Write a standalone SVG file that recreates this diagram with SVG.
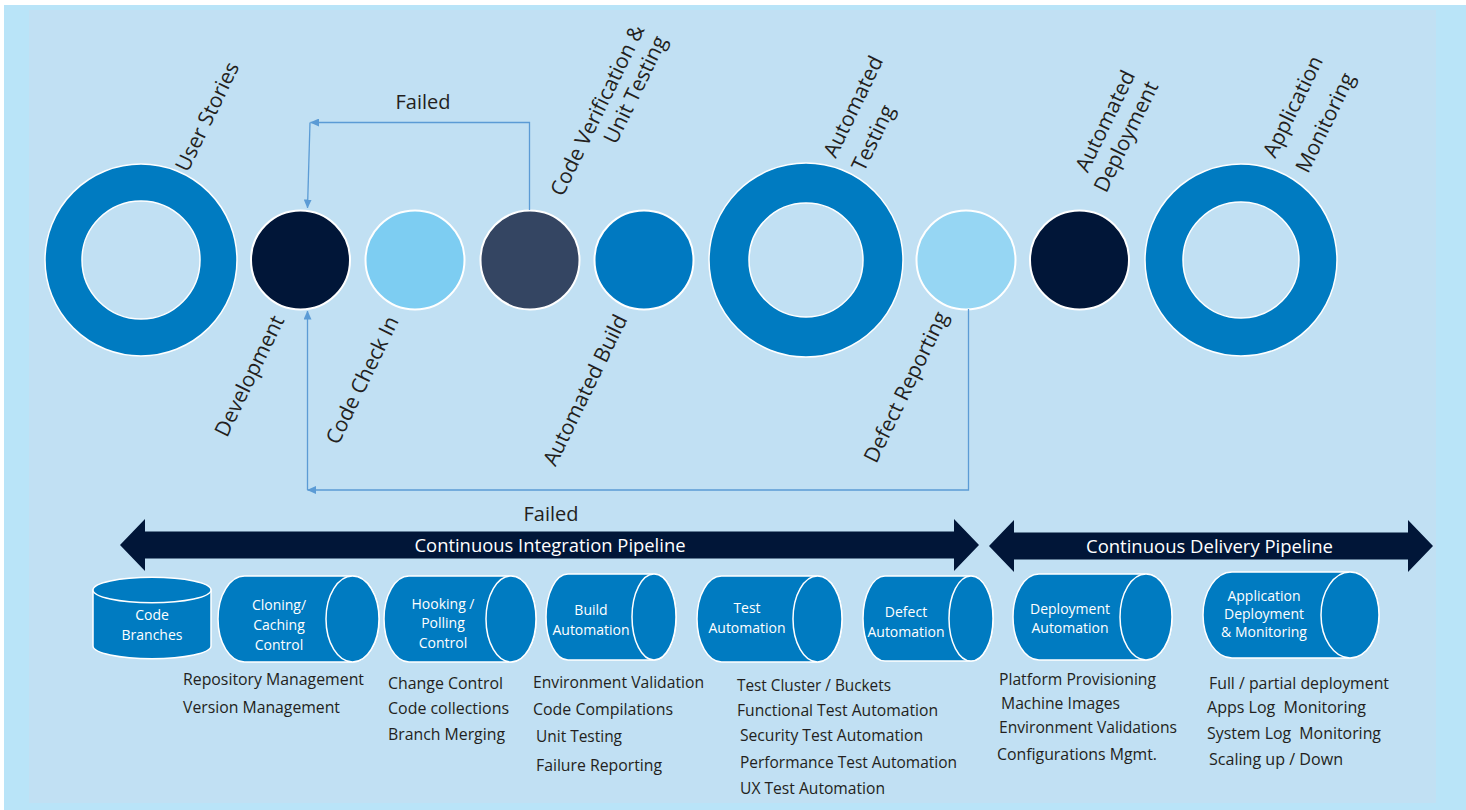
<svg xmlns="http://www.w3.org/2000/svg" width="1466" height="810" viewBox="0 0 1466 810">
<defs>
<style>
.lbl{font-family:"Open Sans","Noto Sans",sans-serif;font-size:21px;fill:#231f20;text-anchor:middle}
.ct{font-family:"Open Sans","Noto Sans",sans-serif;font-size:14px;fill:#ffffff;text-anchor:middle}
.lst{font-family:"Open Sans","Noto Sans",sans-serif;font-size:16px;fill:#231f20}
.cyl{fill:#007bc1;stroke:#ffffff;stroke-width:1.5}
.ring{fill:#007bc1;stroke:#ffffff;stroke-width:1.5;fill-rule:evenodd}
.dot{stroke:#ffffff;stroke-width:2}
.con{fill:none;stroke:#5b9bd5;stroke-width:1.3}
.big{fill:#011638}
.bt{font-family:"Open Sans","Noto Sans",sans-serif;font-size:18px;fill:#ffffff;text-anchor:middle}
.fl{font-family:"Open Sans","Noto Sans",sans-serif;font-size:20px;fill:#231f20;text-anchor:middle}
</style>
<marker id="ah" markerWidth="9" markerHeight="8" refX="8.5" refY="4" orient="auto" markerUnits="userSpaceOnUse"><path d="M0,0 L9,4 L0,8 z" fill="#5b9bd5"/></marker>
</defs>
<rect x="0" y="0" width="1466" height="810" fill="#ffffff"/>
<rect x="4" y="5" width="1462" height="805" fill="#b9e4f8"/>
<rect x="29" y="10" width="1407" height="793" fill="#c1e0f3"/>

<g id="user-stories">
<path class="ring" d="M45,260 a96,96 0 1,0 192,0 a96,96 0 1,0 -192,0 Z M82,260 a59,59 0 1,0 118,0 a59,59 0 1,0 -118,0 Z"/>
<text class="lbl" transform="translate(207,116.5) rotate(-64)" y="7.4">User Stories</text>
</g>
<g id="development">
<circle class="dot" cx="300.5" cy="260" r="49.5" fill="#011638"/>
<text class="lbl" transform="translate(250.5,376.5) rotate(-64)" y="6">Development</text>
</g>
<g id="code-check-in">
<circle class="dot" cx="415" cy="260" r="49.5" fill="#7dcdf2"/>
<text class="lbl" transform="translate(362,380) rotate(-64)" y="7.4">Code Check In</text>
</g>
<g id="code-verification">
<circle class="dot" cx="530" cy="260" r="49.5" fill="#344562"/>
<text class="lbl" transform="translate(598,110.5) rotate(-64)"><tspan x="0" y="6.5">Code Verification &amp;</tspan><tspan x="35" y="31.5">Unit Testing</tspan></text>
</g>
<g id="automated-build">
<circle class="dot" cx="644" cy="260" r="49.5" fill="#0079c1"/>
<text class="lbl" transform="translate(585,390) rotate(-64)" y="7.4">Automated Build</text>
</g>
<g id="automated-testing">
<path class="ring" d="M709,260 a97,97 0 1,0 194,0 a97,97 0 1,0 -194,0 Z M749,260 a57,57 0 1,0 114,0 a57,57 0 1,0 -114,0 Z"/>
<text class="lbl" transform="translate(853,106.5) rotate(-64)"><tspan x="0" y="7.4">Automated</tspan><tspan x="-19.4" y="39">Testing</tspan></text>
</g>
<g id="defect-reporting">
<circle class="dot" cx="966" cy="260" r="49.5" fill="#96d6f3"/>
<text class="lbl" transform="translate(907,387.5) rotate(-64)" y="6">Defect Reporting</text>
</g>
<g id="automated-deployment">
<circle class="dot" cx="1079.5" cy="260" r="49.5" fill="#011638"/>
<text class="lbl" transform="translate(1105,121) rotate(-64)"><tspan x="0" y="7.4">Automated</tspan><tspan x="-4.8" y="33">Deployment</tspan></text>
</g>
<g id="application-monitoring">
<path class="ring" d="M1145,260 a96,96 0 1,0 192,0 a96,96 0 1,0 -192,0 Z M1183,260 a58,58 0 1,0 116,0 a58,58 0 1,0 -116,0 Z"/>
<text class="lbl" transform="translate(1294,107) rotate(-64)"><tspan x="0" y="6">Application</tspan><tspan x="-0.4" y="42">Monitoring</tspan></text>
</g>

<g id="connectors">
<path class="con" d="M529.5,210 V122.5 H310.5" marker-end="url(#ah)"/>
<path class="con" d="M310,122.5 L307.5,208" marker-end="url(#ah)"/>
<text class="fl" x="423" y="109">Failed</text>
<path class="con" d="M968.5,309 V490 H307.5" marker-end="url(#ah)"/>
<path class="con" d="M307.5,490 V311" marker-end="url(#ah)"/>
<text class="fl" x="551" y="521">Failed</text>
</g>

<g id="ci-pipeline">
<polygon class="big" points="120,545 145,519 145,531.5 954,531.5 954,519 979,545 954,571 954,558.5 145,558.5 145,571"/>
<text class="bt" x="550" y="551.5" textLength="271" lengthAdjust="spacingAndGlyphs">Continuous Integration Pipeline</text>
</g>
<g id="cd-pipeline">
<polygon class="big" points="989,546 1014,520 1014,532.5 1408,532.5 1408,520 1433,546 1408,572 1408,559.5 1014,559.5 1014,572"/>
<text class="bt" x="1209.5" y="552.5" textLength="247" lengthAdjust="spacingAndGlyphs">Continuous Delivery Pipeline</text>
</g>

<g id="code-branches">
<path class="cyl" d="M93,590 V646 A59,12.7 0 0,0 211,646 V590 Z"/>
<ellipse class="cyl" cx="152" cy="590" rx="59" ry="12.7"/>
<text class="ct" x="152" y="620">Code</text>
<text class="ct" x="152" y="640">Branches</text>
</g>
<g id="cloning-caching">
<path class="cyl" d="M244.5,576 H352.5 A26.5,43 0 0,1 352.5,662 H244.5 A26.5,43 0 0,1 244.5,576 Z"/>
<ellipse class="cyl" cx="352.5" cy="619" rx="26.5" ry="43"/>
<text class="ct" x="279" y="610">Cloning/</text>
<text class="ct" x="279" y="630">Caching</text>
<text class="ct" x="279" y="650">Control</text>
</g>
<g id="hooking-polling">
<path class="cyl" d="M409,576 H511 A25,43 0 0,1 511,662 H409 A25,43 0 0,1 409,576 Z"/>
<ellipse class="cyl" cx="511" cy="619" rx="25" ry="43"/>
<text class="ct" x="443" y="609">Hooking /</text>
<text class="ct" x="443" y="628">Polling</text>
<text class="ct" x="443" y="648">Control</text>
</g>
<g id="build-automation">
<path class="cyl" d="M568,574 H654 A22,43 0 0,1 654,660 H568 A22,43 0 0,1 568,574 Z"/>
<ellipse class="cyl" cx="654" cy="617" rx="22" ry="43"/>
<text class="ct" x="591" y="615">Build</text>
<text class="ct" x="591" y="635">Automation</text>
</g>
<g id="test-automation">
<path class="cyl" d="M721.5,576 H817.5 A24.5,43 0 0,1 817.5,662 H721.5 A24.5,43 0 0,1 721.5,576 Z"/>
<ellipse class="cyl" cx="817.5" cy="619" rx="24.5" ry="43"/>
<text class="ct" x="747" y="613">Test</text>
<text class="ct" x="747" y="633">Automation</text>
</g>
<g id="defect-automation">
<path class="cyl" d="M885,576 H971 A22,42.5 0 0,1 971,661 H885 A22,42.5 0 0,1 885,576 Z"/>
<ellipse class="cyl" cx="971" cy="618.5" rx="22" ry="42.5"/>
<text class="ct" x="906" y="617">Defect</text>
<text class="ct" x="906" y="637">Automation</text>
</g>
<g id="deployment-automation">
<path class="cyl" d="M1039,574 H1146 A26,43 0 0,1 1146,660 H1039 A26,43 0 0,1 1039,574 Z"/>
<ellipse class="cyl" cx="1146" cy="617" rx="26" ry="43"/>
<text class="ct" x="1070" y="614">Deployment</text>
<text class="ct" x="1070" y="633">Automation</text>
</g>
<g id="app-deployment-monitoring">
<path class="cyl" d="M1232,572 H1350 A29,43 0 0,1 1350,658 H1232 A29,43 0 0,1 1232,572 Z"/>
<ellipse class="cyl" cx="1350" cy="615" rx="29" ry="43"/>
<text class="ct" x="1264" y="601">Application</text>
<text class="ct" x="1264" y="619">Deployment</text>
<text class="ct" x="1264" y="637">&amp; Monitoring</text>
</g>

<g id="lists">
<text class="lst" x="183" y="685" textLength="181" lengthAdjust="spacingAndGlyphs">Repository Management</text>
<text class="lst" x="183" y="713" textLength="157" lengthAdjust="spacingAndGlyphs">Version Management</text>
<text class="lst" x="388" y="689" textLength="115" lengthAdjust="spacingAndGlyphs">Change Control</text>
<text class="lst" x="388" y="714" textLength="121" lengthAdjust="spacingAndGlyphs">Code collections</text>
<text class="lst" x="388" y="740" textLength="117" lengthAdjust="spacingAndGlyphs">Branch Merging</text>
<text class="lst" x="533" y="688" textLength="171" lengthAdjust="spacingAndGlyphs">Environment Validation</text>
<text class="lst" x="533" y="715" textLength="140" lengthAdjust="spacingAndGlyphs">Code Compilations</text>
<text class="lst" x="536" y="742" textLength="86" lengthAdjust="spacingAndGlyphs">Unit Testing</text>
<text class="lst" x="536" y="771" textLength="126" lengthAdjust="spacingAndGlyphs">Failure Reporting</text>
<text class="lst" x="737" y="691" textLength="154" lengthAdjust="spacingAndGlyphs">Test Cluster / Buckets</text>
<text class="lst" x="737" y="716" textLength="201" lengthAdjust="spacingAndGlyphs">Functional Test Automation</text>
<text class="lst" x="740" y="741" textLength="183" lengthAdjust="spacingAndGlyphs">Security Test Automation</text>
<text class="lst" x="740" y="768" textLength="217" lengthAdjust="spacingAndGlyphs">Performance Test Automation</text>
<text class="lst" x="740" y="794" textLength="145" lengthAdjust="spacingAndGlyphs">UX Test Automation</text>
<text class="lst" x="999" y="685" textLength="157" lengthAdjust="spacingAndGlyphs">Platform Provisioning</text>
<text class="lst" x="1001" y="709" textLength="119" lengthAdjust="spacingAndGlyphs">Machine Images</text>
<text class="lst" x="999" y="733" textLength="178" lengthAdjust="spacingAndGlyphs">Environment Validations</text>
<text class="lst" x="997" y="760" textLength="160" lengthAdjust="spacingAndGlyphs">Configurations Mgmt.</text>
<text class="lst" x="1209" y="689" textLength="180" lengthAdjust="spacingAndGlyphs">Full / partial deployment</text>
<text class="lst" x="1207" y="713" textLength="159" lengthAdjust="spacingAndGlyphs" xml:space="preserve">Apps Log  Monitoring</text>
<text class="lst" x="1207" y="739" textLength="174" lengthAdjust="spacingAndGlyphs" xml:space="preserve">System Log  Monitoring</text>
<text class="lst" x="1209" y="765" textLength="134" lengthAdjust="spacingAndGlyphs">Scaling up / Down</text>
</g>
</svg>
